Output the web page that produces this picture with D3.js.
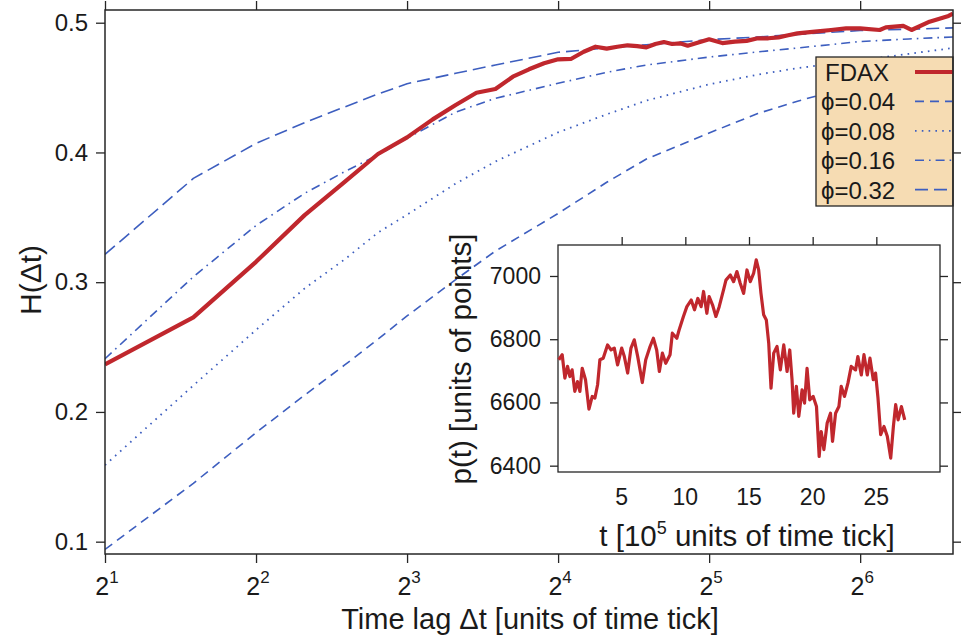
<!DOCTYPE html>
<html>
<head>
<meta charset="utf-8">
<script src="https://cdn.jsdelivr.net/npm/d3@7"></script>
<style>
  body { margin: 0; background: #fff; }
  svg text { font-family: "Liberation Sans", Arial, Helvetica, sans-serif; fill: #1a1a1a; }
</style>
</head>
<body>
<svg id="chart" width="963" height="641"></svg>
<script>
// FDAX Hurst exponent vs time lag
const fdaxLag = [2,3,4,5,6,7,8,9,10,11,12,13,14,15,16,17,18,19,20,21,22,23,24,25,26,27,28,29,30,
  32,34,36,38,40,42,44,46,48,52,56,60,64,70,72,78,81,88,96,98];
const fdaxH = [0.2366,0.2729,0.3157,0.3517,0.3772,0.3988,0.4116,0.4255,0.4366,0.446,0.4489,0.4584,
  0.4641,0.4687,0.4718,0.4722,0.4776,0.4815,0.480,0.4815,0.4826,0.482,0.481,0.4836,0.4851,0.4836,
  0.4841,0.4823,0.484,0.4872,0.4843,0.4854,0.486,0.488,0.488,0.4887,0.4903,0.4918,0.4931,0.4944,
  0.4957,0.4957,0.4944,0.4964,0.4975,0.4944,0.5008,0.5052,0.507];

// model curves for different phi
const phiLag = [2,3,4,5,6,7,8,10,12,16,20,24,32,40,48,64,80,98];
const phi004 = [0.094,0.145,0.184,0.213,0.236,0.256,0.274,0.302,0.324,0.353,0.377,0.395,0.415,0.430,0.4395,0.453,0.461,0.467];
const phi008 = [0.159,0.2204,0.2632,0.2952,0.3174,0.3382,0.352,0.376,0.393,0.4155,0.4294,0.44,0.4525,0.460,0.465,0.471,0.476,0.4805];
const phi016 = [0.241,0.3042,0.3437,0.3685,0.3851,0.398,0.411,0.4311,0.4417,0.4533,0.4618,0.4674,0.4735,0.4775,0.4805,0.4855,0.4875,0.489];
const phi032 = [0.3214,0.380,0.407,0.423,0.435,0.445,0.453,0.461,0.4674,0.4772,0.4805,0.483,0.487,0.489,0.491,0.494,0.495,0.496];

const legendLabels = ["FDAX", "\u03d5=0.04", "\u03d5=0.08", "\u03d5=0.16", "\u03d5=0.32"];
const yTicks = [0.1, 0.2, 0.3, 0.4, 0.5];
const xExponents = [1, 2, 3, 4, 5, 6];

// inset: price series p(t), t in 10^5 ticks
const priceT = [0.06,0.33,0.54,0.75,0.93,1.11,1.32,1.53,1.72,1.90,2.16,2.43,2.69,2.90,3.11,3.29,3.55,3.89,
  4.16,4.42,4.68,5.00,5.21,5.47,5.73,5.99,6.26,6.62,6.89,7.23,7.49,7.75,7.96,8.20,8.46,8.80,8.98,9.33,
  9.51,9.85,10.12,10.46,10.72,10.98,11.24,11.43,11.69,11.87,12.14,12.40,12.66,13.00,13.19,13.53,13.79,
  14.05,14.31,14.58,14.84,15.10,15.36,15.57,15.76,15.94,16.15,16.36,16.55,16.73,16.94,17.20,17.46,17.73,
  17.99,18.20,18.38,18.51,18.72,18.91,19.17,19.36,19.56,19.77,20.04,20.30,20.51,20.67,20.88,21.14,21.40,
  21.56,21.80,22.06,22.24,22.50,22.77,23.03,23.37,23.55,23.82,24.03,24.29,24.50,24.76,24.94,25.13,25.34,
  25.60,25.86,26.13,26.34,26.52,26.71,26.97,27.23];
const priceP = [6735,6751,6677,6714,6682,6703,6635,6666,6635,6708,6672,6579,6619,6614,6656,6735,6740,6782,
  6766,6772,6719,6772,6745,6693,6772,6798,6745,6663,6735,6777,6803,6766,6698,6756,6724,6751,6819,6803,
  6829,6872,6903,6924,6893,6929,6903,6951,6882,6935,6908,6872,6903,6956,6987,7003,6982,
  7014,6977,6945,7019,6982,7008,7051,7019,6945,6877,6861,6787,6645,6756,6777,6703,6782,
  6698,6766,6672,6566,6651,6556,6640,6598,6708,6608,6619,6587,6429,6508,6451,6535,6566,
  6477,6566,6587,6651,6619,6661,6714,6703,6745,6687,6751,6687,6740,6672,6693,6614,6498,
  6524,6493,6424,6524,6593,6545,6587,6545];
const insetYTicks = [6400, 6600, 6800, 7000];
const insetXTicks = [5, 10, 15, 20, 25];

const red = "#c0272d";
const blue = "#3d5ebf";
const ink = "#262626";

const svg = d3.select("#chart");

const x = d3.scaleLog().base(2).domain([2, 98]).range([105, 953]);
const y = d3.scaleLinear().domain([0.0905, 0.5098]).range([554, 10]);

svg.append("clipPath").attr("id", "plotClip")
  .append("rect").attr("x", 105).attr("y", 10).attr("width", 848).attr("height", 544);

const series = [
  {lag: phiLag, h: phi004, color: blue, width: 1.6, dash: "9,6"},
  {lag: phiLag, h: phi008, color: blue, width: 1.8, dash: "1.6,5.2"},
  {lag: phiLag, h: phi016, color: blue, width: 1.6, dash: "9,5,1.6,5"},
  {lag: phiLag, h: phi032, color: blue, width: 1.6, dash: "13,6"},
  {lag: fdaxLag, h: fdaxH, color: red, width: 4.2, dash: null}
];

const line = d3.line().x(d => x(d[0])).y(d => y(d[1]));
const plot = svg.append("g").attr("clip-path", "url(#plotClip)");
series.forEach(s => {
  plot.append("path")
    .attr("d", line(s.lag.map((l, i) => [l, s.h[i]])))
    .attr("fill", "none")
    .attr("stroke", s.color)
    .attr("stroke-width", s.width)
    .attr("stroke-dasharray", s.dash)
    .attr("stroke-linejoin", "round");
});

// ---- inset ----
const ix = d3.scaleLinear().domain([0, 30]).range([558, 940]);
const iy = d3.scaleLinear().domain([6380, 7098]).range([472, 245]);

svg.append("rect")
  .attr("x", 558).attr("y", 245).attr("width", 382).attr("height", 227)
  .attr("fill", "#fff").attr("stroke", ink).attr("stroke-width", 1.3);

svg.append("path")
  .attr("d", d3.line().x(d => ix(d[0])).y(d => iy(d[1]))(priceT.map((t, i) => [t, priceP[i]])))
  .attr("fill", "none").attr("stroke", red).attr("stroke-width", 3.2)
  .attr("stroke-linejoin", "round");

function styleAxis(g) {
  g.select(".domain").remove();
  g.selectAll(".tick line").attr("stroke", ink).attr("stroke-width", 1.3);
}

svg.append("g").attr("transform", "translate(558,0)")
  .call(d3.axisLeft(iy).tickValues(insetYTicks).tickSize(8).tickPadding(9).tickFormat(d3.format("d")))
  .call(styleAxis)
  .selectAll("text").style("font-size", "23px").attr("fill", "#1a1a1a");
svg.append("g").attr("transform", "translate(940,0)")
  .call(d3.axisRight(iy).tickValues(insetYTicks).tickSize(8).tickFormat(""))
  .call(styleAxis);
svg.append("g").attr("transform", "translate(0,245)")
  .call(d3.axisTop(ix).tickValues(insetXTicks).tickSize(8).tickFormat(""))
  .call(styleAxis);
svg.selectAll(".insetXLabel")
  .data(insetXTicks)
  .enter()
  .append("text")
  .attr("x", d => ix(d))
  .attr("y", 505)
  .attr("text-anchor", "middle")
  .style("font-size", "23px")
  .text(d => d);

svg.append("text")
  .attr("transform", "translate(471,359) rotate(-90)")
  .attr("text-anchor", "middle")
  .style("font-size", "29.5px")
  .text("p(t) [units of points]");

const insetTitle = svg.append("text")
  .attr("x", 747).attr("y", 546)
  .attr("text-anchor", "middle")
  .style("font-size", "29.5px");
insetTitle.append("tspan").text("t [10");
insetTitle.append("tspan").attr("dy", -12).style("font-size", "18px").text("5");
insetTitle.append("tspan").attr("dy", 12).text(" units of time tick]");

// ---- legend ----
const legX = 816, legY = 57, legRow = 29.4;
svg.append("rect")
  .attr("x", legX).attr("y", legY).attr("width", 137).attr("height", 149)
  .attr("fill", "#f6dcb3").attr("stroke", ink).attr("stroke-width", 1.3);
const legStyles = [series[4], series[0], series[1], series[2], series[3]];
legendLabels.forEach((lab, i) => {
  const by = 81 + i * legRow;
  svg.append("text")
    .attr("x", i === 0 ? 825 : 821).attr("y", by)
    .style("font-size", "24px")
    .text(lab);
  svg.append("line")
    .attr("x1", 915).attr("x2", 953)
    .attr("y1", by - 9).attr("y2", by - 9)
    .attr("stroke", legStyles[i].color)
    .attr("stroke-width", legStyles[i].width)
    .attr("stroke-dasharray", legStyles[i].dash);
});

// ---- main frame and axes ----
svg.append("rect")
  .attr("x", 105).attr("y", 10).attr("width", 848).attr("height", 544)
  .attr("fill", "none").attr("stroke", ink).attr("stroke-width", 1.5);

svg.append("g").attr("transform", "translate(105,0)")
  .call(d3.axisLeft(y).tickValues(yTicks).tickSize(9).tickPadding(8).tickFormat(d3.format(".1f")))
  .call(styleAxis)
  .selectAll("text").style("font-size", "24px").attr("fill", "#1a1a1a");
svg.append("g").attr("transform", "translate(953,0)")
  .call(d3.axisRight(y).tickValues(yTicks).tickSize(8).tickFormat(""))
  .call(styleAxis);

const xTickVals = xExponents.map(e => Math.pow(2, e));
svg.append("g").attr("transform", "translate(0,554)")
  .call(d3.axisBottom(x).tickValues(xTickVals).tickSize(9).tickFormat(""))
  .call(styleAxis);
svg.append("g").attr("transform", "translate(0,10)")
  .call(d3.axisTop(x).tickValues(xTickVals).tickSize(9).tickFormat(""))
  .call(styleAxis);

const xLab = svg.selectAll(".xLabel")
  .data(xExponents)
  .enter()
  .append("text")
  .attr("x", d => x(Math.pow(2, d)) + 2)
  .attr("y", 595)
  .attr("text-anchor", "middle")
  .style("font-size", "25px");
xLab.append("tspan").text("2");
xLab.append("tspan").attr("dy", -12).style("font-size", "17px").text(d => d);

svg.append("text")
  .attr("x", 530).attr("y", 629)
  .attr("text-anchor", "middle")
  .style("font-size", "29px")
  .text("Time lag \u0394t [units of time tick]");

svg.append("text")
  .attr("transform", "translate(41,280) rotate(-90)")
  .attr("text-anchor", "middle")
  .style("font-size", "30px")
  .text("H(\u0394t)");
</script>
</body>
</html>
